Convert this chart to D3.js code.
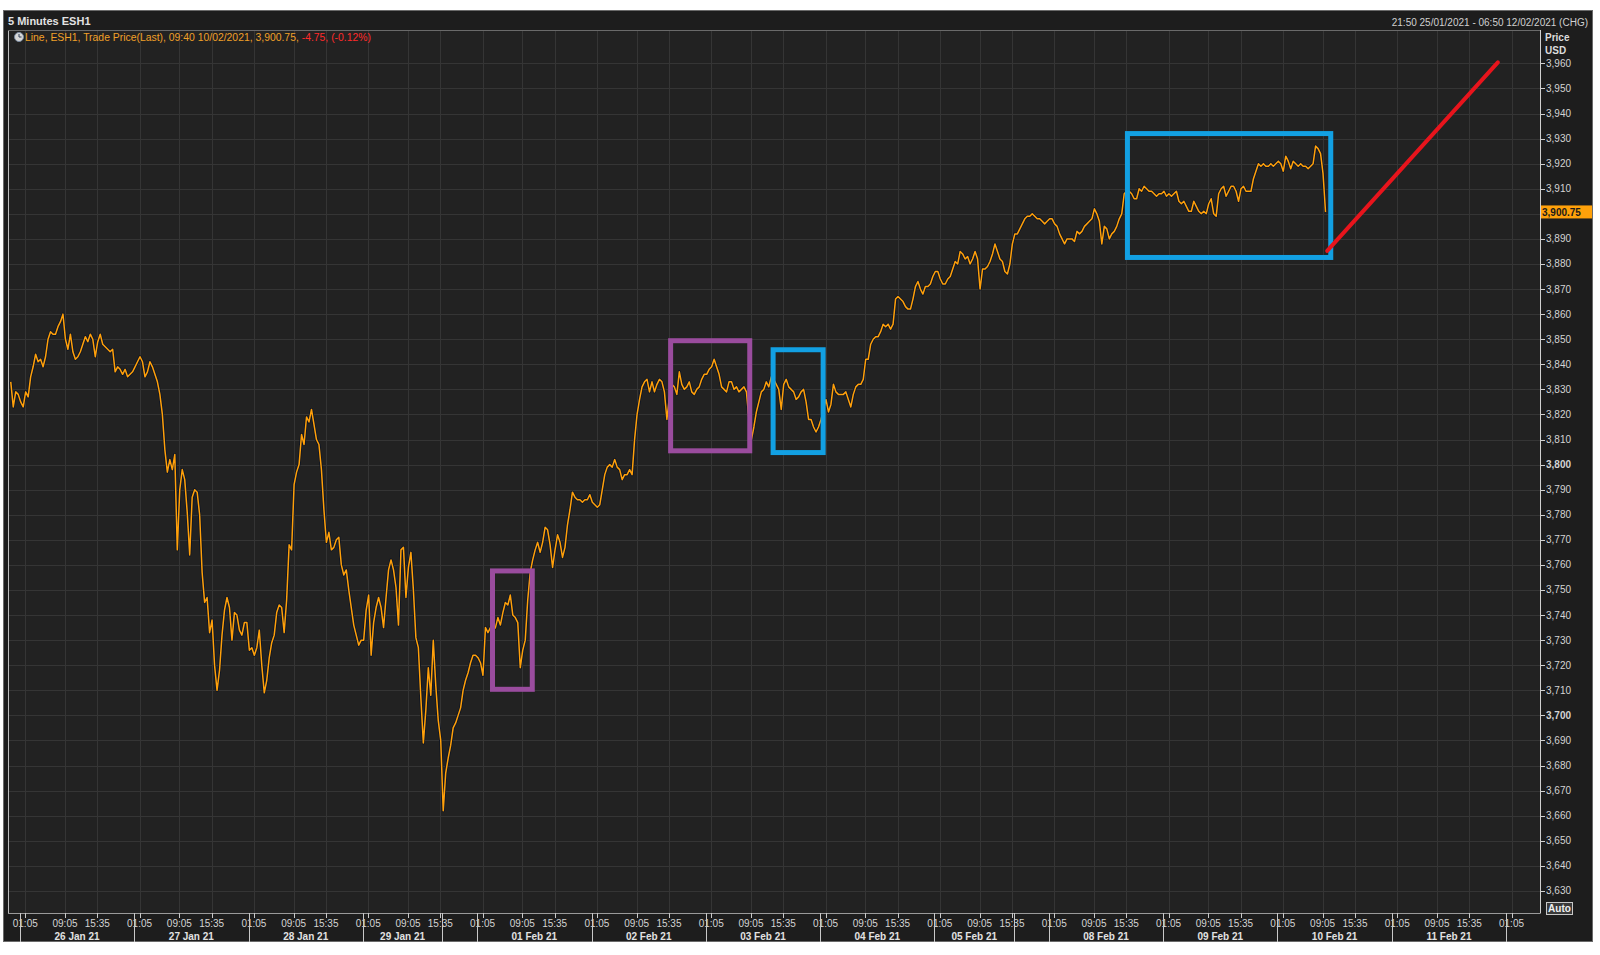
<!DOCTYPE html>
<html><head><meta charset="utf-8">
<script src="https://cdn.jsdelivr.net/npm/d3@7"></script>
<style>
html,body{margin:0;padding:0;background:#ffffff;}
svg{display:block;font-family:"Liberation Sans",Arial,sans-serif;}
</style></head><body>
<svg id="chart" width="1600" height="955"></svg>
<script>
// ---------------- DATA ----------------
const chartTitle = "5 Minutes ESH1";
const legendMain = "Line, ESH1, Trade Price(Last), 09:40 10/02/2021, 3,900.75, ";
const legendChange = "-4.75, (-0.12%)";
const rangeText = "21:50 25/01/2021 - 06:50 12/02/2021 (CHG)";
const axisTitle = ["Price", "USD"];
const lastPrice = 3900.75;
const lastPriceLabel = "3,900.75";
const rangeStart = "2021-01-25 21:50";
const rangeEnd = "2021-02-12 06:50";
const seriesStart = "2021-01-25 22:10";   // first sample
const seriesStepMinutes = 30;              // trading minutes between samples
const prices = [
3833,3823,3829,3828,3825,3823,3829,3827,3835,3839,
3844,3841,3842,3839,3843,3850,3853,3852,3852,3855,
3857,3860,3850,3846,3852,3845,3842,3843,3845,3848,
3851,3849,3852,3850,3843,3849,3852,3848,3847,3846,
3845,3846,3837,3839,3838,3836,3838,3835,3836,3837,
3839,3841,3843,3841,3835,3837,3841,3839,3836,3833,
3828,3820,3806,3797,3802,3798,3804,3766,3790,3798,
3794,3781,3764,3787,3790,3789,3780,3757,3745,3747,
3733,3738,3720,3710,3718,3732,3742,3747,3743,3730,
3741,3740,3734,3732,3737,3737,3726,3727,3724,3727,
3734,3720,3709,3714,3723,3729,3732,3741,3744,3743,
3733,3746,3768,3766,3792,3797,3800,3812,3808,3819,
3817,3822,3816,3810,3808,3798,3782,3769,3773,3766,
3767,3770,3771,3760,3756,3758,3750,3743,3736,3732,
3728,3730,3730,3742,3748,3724,3737,3743,3747,3743,
3735,3747,3758,3762,3758,3751,3736,3766,3767,3747,
3759,3765,3750,3731,3727,3707,3689,3702,3719,3708,
3730,3712,3698,3690,3662,3677,3683,3688,3695,3697,
3700,3703,3710,3714,3717,3721,3724,3724,3723,3721,
3716,3735,3733,3735,3734,3735,3739,3736,3741,3745,
3744,3748,3740,3739,3737,3719,3726,3730,3746,3757,
3762,3766,3769,3765,3769,3775,3774,3768,3759,3766,
3772,3769,3763,3767,3776,3782,3789,3787,3786,3786,
3785,3786,3786,3788,3785,3784,3783,3784,3790,3796,
3799,3800,3799,3802,3799,3798,3794,3796,3796,3798,
3796,3810,3820,3826,3831,3833,3834,3829,3833,3829,
3832,3834,3833,3829,3818,3827,3832,3831,3828,3837,
3832,3830,3831,3833,3829,3828,3830,3831,3834,3836,
3836,3838,3839,3842,3839,3836,3831,3830,3829,3833,
3833,3830,3831,3829,3830,3831,3829,3818,3810,3815,
3821,3825,3829,3830,3833,3831,3835,3834,3832,3830,
3822,3832,3834,3831,3830,3829,3826,3827,3829,3830,
3825,3818,3818,3815,3813,3815,3818,3822,3826,3821,
3824,3832,3829,3828,3828,3828,3829,3826,3823,3828,
3831,3832,3832,3834,3842,3842,3848,3850,3851,3851,
3853,3856,3855,3856,3854,3856,3866,3867,3866,3865,
3863,3862,3862,3866,3871,3873,3870,3868,3871,3871,
3872,3875,3877,3877,3874,3872,3872,3874,3875,3878,
3881,3880,3885,3884,3882,3883,3880,3882,3885,3882,
3870,3878,3878,3879,3881,3884,3888,3885,3882,3881,
3877,3876,3880,3888,3892,3892,3894,3896,3898,3899,
3899,3900,3899,3898,3898,3897,3896,3897,3898,3898,
3896,3895,3892,3890,3888,3890,3890,3890,3889,3893,
3892,3893,3895,3896,3897,3898,3902,3900,3897,3888,
3895,3894,3890,3892,3893,3895,3898,3900,3908,3909,
3909,3908,3906,3906,3910,3909,3911,3910,3909,3909,
3908,3907,3908,3908,3909,3907,3908,3907,3908,3909,
3905,3904,3905,3903,3901,3901,3905,3903,3901,3900,
3901,3900,3904,3906,3900,3899,3908,3910,3911,3907,
3909,3911,3911,3909,3905,3910,3911,3909,3909,3909,
3914,3917,3920,3919,3920,3919,3919,3920,3919,3920,
3921,3920,3917,3923,3921,3918,3921,3920,3919,3920,
3919,3919,3918,3919,3920,3927,3926,3924,3916,3900.75
];
const priceDomain = [3621.2, 3973.3];
const priceTickMin = 3630, priceTickMax = 3960, priceTickStep = 10;
const boldPriceTicks = [3700, 3800, 3900];
const tradingDays = ["2021-01-26","2021-01-27","2021-01-28","2021-01-29","2021-02-01","2021-02-02",
  "2021-02-03","2021-02-04","2021-02-05","2021-02-08","2021-02-09","2021-02-10","2021-02-11"];
const dayLabels = ["26 Jan 21","27 Jan 21","28 Jan 21","29 Jan 21","01 Feb 21","02 Feb 21",
  "03 Feb 21","04 Feb 21","05 Feb 21","08 Feb 21","09 Feb 21","10 Feb 21","11 Feb 21"];
const timeTickLabels = ["01:05","09:05","15:35"];
const trailingDay = "2021-02-12";
const trailingTimeTicks = ["01:05"];
const boxes = [
  {from:"2021-02-01 03:05", to:"2021-02-01 11:05", top:3757.6, bottom:3710.4, color:"#9a4c9e"},
  {from:"2021-02-02 15:55", to:"2021-02-03 08:50", top:3849.4, bottom:3805.5, color:"#9a4c9e"},
  {from:"2021-02-03 13:32", to:"2021-02-04 00:36", top:3845.8, bottom:3804.8, color:"#12a0e3"},
  {from:"2021-02-08 15:49", to:"2021-02-10 10:43", top:3932.0, bottom:3882.6, color:"#12a0e3"}
];
const targetFrom = {time:"2021-02-10 10:00", price:3885.2};
const targetTo = {time:"2021-02-11 22:20", price:3960.4};

// ---------------- TRADING TIME ----------------
function parseT(s){
  const [d,t] = s.split(" ");
  const [Y,M,D] = d.split("-").map(Number);
  const [h,m] = (t||"00:00").split(":").map(Number);
  return Date.UTC(Y,M-1,D,h,m);
}
const REF = Date.UTC(2021,0,24); // Sunday
function openHours(dow, h){
  const segs = dow===0?[[17,24]]:dow===6?[]:dow===5?[[0,16]]:[[0,16],[17,24]];
  let s=0; for(const [a,b] of segs){ if(h>a) s += Math.min(h,b)-a; } return s;
}
function tradeHours(s){
  const ms = typeof s==="string"?parseT(s):s;
  const days = Math.floor((ms-REF)/864e5);
  let total=0;
  for(let i=0;i<days;i++) total += openHours(i%7,24);
  total += openHours(days%7,(ms-REF-days*864e5)/36e5);
  return total;
}

// ---------------- LAYOUT ----------------
const svg = d3.select("#chart");
const P = {left:8, right:1540, top:30, bottom:913};
const x = d3.scaleLinear().domain([tradeHours(rangeStart), tradeHours(rangeEnd)]).range([9.1, 1540.1]);
const y = d3.scaleLinear().domain(priceDomain).range([P.bottom, P.top]);

// outer frame
svg.append("rect").attr("x",0).attr("y",0).attr("width",1600).attr("height",955).attr("fill","#ffffff");
svg.append("rect").attr("x",3.5).attr("y",10.5).attr("width",1589).attr("height",931).attr("fill","#1d1d1d").attr("stroke","#6a6a6a");
// plot background
svg.append("rect").attr("x",P.left).attr("y",P.top).attr("width",P.right-P.left).attr("height",P.bottom-P.top).attr("fill","#222222");

const priceTicks = d3.range(priceTickMin, priceTickMax+1, priceTickStep);
const fmt = d3.format(",");

// time ticks
const timeTicks = [];
tradingDays.forEach(d => timeTickLabels.forEach(t => timeTicks.push({t:d+" "+t, label:t})));
trailingTimeTicks.forEach(t => timeTicks.push({t:trailingDay+" "+t, label:t}));

// gridlines
const grid = svg.append("g");
grid.selectAll("line.h").data(priceTicks).join("line")
  .attr("x1",P.left).attr("x2",P.right)
  .attr("y1",d=>Math.round(y(d))+0.5).attr("y2",d=>Math.round(y(d))+0.5)
  .attr("stroke","#353535").attr("stroke-width",1);
grid.selectAll("line.v").data(timeTicks).join("line")
  .attr("x1",d=>Math.round(x(tradeHours(d.t)))+0.5).attr("x2",d=>Math.round(x(tradeHours(d.t)))+0.5)
  .attr("y1",P.top).attr("y2",P.bottom)
  .attr("stroke","#353535").attr("stroke-width",1);

// price line
const t0 = tradeHours(seriesStart);
const step = seriesStepMinutes/60;
const line = d3.line().x((d,i)=>x(t0+i*step)).y(d=>y(d));
svg.append("path").datum(prices).attr("d",line).attr("fill","none")
  .attr("stroke","#0c1322").attr("stroke-width",3).attr("stroke-linejoin","round");
svg.append("path").datum(prices).attr("d",line).attr("fill","none")
  .attr("stroke","#ffa00a").attr("stroke-width",1.5).attr("stroke-linejoin","round");

// annotation boxes
svg.selectAll("rect.box").data(boxes).join("rect")
  .attr("x",d=>x(tradeHours(d.from))).attr("y",d=>y(d.top))
  .attr("width",d=>x(tradeHours(d.to))-x(tradeHours(d.from)))
  .attr("height",d=>y(d.bottom)-y(d.top))
  .attr("fill","none").attr("stroke",d=>d.color).attr("stroke-width",5);

// target line
svg.append("line")
  .attr("x1",x(tradeHours(targetFrom.time))).attr("y1",y(targetFrom.price))
  .attr("x2",x(tradeHours(targetTo.time))).attr("y2",y(targetTo.price))
  .attr("stroke","#e8141c").attr("stroke-width",4).attr("stroke-linecap","round");

// plot borders
svg.append("line").attr("x1",P.left+0.5).attr("x2",P.left+0.5).attr("y1",P.top).attr("y2",P.bottom+0.5).attr("stroke","#bdbdbd");
svg.append("line").attr("x1",P.left).attr("x2",P.right).attr("y1",P.top+0.5).attr("y2",P.top+0.5).attr("stroke","#6a6a6a");
svg.append("line").attr("x1",P.left).attr("x2",P.right).attr("y1",P.bottom+0.5).attr("y2",P.bottom+0.5).attr("stroke","#9a9a9a");
svg.append("line").attr("x1",P.right+0.5).attr("x2",P.right+0.5).attr("y1",P.top).attr("y2",P.bottom+0.5).attr("stroke","#d0d0d0");

// y axis ticks & labels (the label under the last-price tag is covered, as in the reference)
const ly = y(lastPrice);
const ya = svg.append("g");
ya.selectAll("line").data(priceTicks).join("line")
  .attr("x1",P.right).attr("x2",P.right+5)
  .attr("y1",d=>Math.round(y(d))+0.5).attr("y2",d=>Math.round(y(d))+0.5).attr("stroke","#d0d0d0");
ya.selectAll("text").data(priceTicks.filter(d=>Math.abs(y(d)-ly)>8)).join("text")
  .attr("x",P.right+6).attr("y",d=>y(d)).attr("dy","0.35em")
  .attr("font-size",10).attr("fill","#d4d4d4")
  .attr("font-weight",d=>boldPriceTicks.includes(d)?"bold":"normal")
  .text(d=>fmt(d));
svg.append("text").attr("x",P.right+5).attr("y",41).attr("font-size",10).attr("font-weight","bold").attr("fill","#dcdcdc").text(axisTitle[0]);
svg.append("text").attr("x",P.right+5).attr("y",54).attr("font-size",10).attr("font-weight","bold").attr("fill","#dcdcdc").text(axisTitle[1]);

// last price tag
svg.append("rect").attr("x",P.right+1).attr("y",ly-6.5).attr("width",51).attr("height",13).attr("fill","#ffa10a");
svg.append("text").attr("x",P.right+2).attr("y",ly).attr("dy","0.36em").attr("font-size",10).attr("font-weight","bold").attr("fill","#1a1a1a").text(lastPriceLabel);

// Auto box
svg.append("rect").attr("x",1546.5).attr("y",902.5).attr("width",26).attr("height",12).attr("fill","#3a3a3a").attr("stroke","#c8c8c8");
svg.append("text").attr("x",1559.5).attr("y",912).attr("text-anchor","middle").attr("font-size",10).attr("font-weight","bold").attr("fill","#f0f0f0").text("Auto");

// x axis
const xa = svg.append("g");
xa.selectAll("line.tick").data(timeTicks).join("line")
  .attr("x1",d=>Math.round(x(tradeHours(d.t)))+0.5).attr("x2",d=>Math.round(x(tradeHours(d.t)))+0.5)
  .attr("y1",P.bottom).attr("y2",P.bottom+5).attr("stroke","#c8c8c8");
xa.selectAll("text.time").data(timeTicks).join("text")
  .attr("x",d=>x(tradeHours(d.t))).attr("y",927).attr("text-anchor","middle")
  .attr("font-size",10).attr("fill","#d4d4d4").text(d=>d.label);

// day separators: midnights, Friday close, next-day boundaries
const seps = [];
const daySegs = tradingDays.map((d,i)=>{
  const s = tradeHours(d+" 00:00");
  const dow = new Date(parseT(d)).getUTCDay();
  const e = dow===5 ? tradeHours(d+" 16:00") : tradeHours(d+" 24:00");
  return {s,e,label:dayLabels[i]};
});
daySegs.forEach(s=>{seps.push(s.s); seps.push(s.e);});
seps.push(tradeHours(trailingDay+" 00:00"));
const sepUnique = Array.from(new Set(seps.map(v=>v.toFixed(3)))).map(Number);
xa.selectAll("line.sep").data(sepUnique).join("line")
  .attr("x1",d=>Math.round(x(d))+0.5).attr("x2",d=>Math.round(x(d))+0.5)
  .attr("y1",P.bottom).attr("y2",942).attr("stroke","#c8c8c8");
xa.selectAll("text.day").data(daySegs).join("text")
  .attr("x",d=>(x(d.s)+x(d.e))/2).attr("y",940).attr("text-anchor","middle")
  .attr("font-size",10).attr("font-weight","bold").attr("fill","#e2e2e2").text(d=>d.label);

// header
svg.append("text").attr("x",8).attr("y",25).attr("font-size",11).attr("font-weight","bold").attr("fill","#e2e2e2").text(chartTitle);
svg.append("text").attr("x",1588).attr("y",26).attr("text-anchor","end").attr("font-size",10).attr("fill","#d0d0d0").text(rangeText);
// legend icon
const ic = svg.append("g").attr("transform","translate(19,37)");
ic.append("circle").attr("r",4.5).attr("fill","#d8d8d8").attr("stroke","#7a8aa0");
ic.append("path").attr("d","M0,-3V0H2.5").attr("stroke","#30405a").attr("stroke-width",1).attr("fill","none");
const lg = svg.append("text").attr("x",25).attr("y",41).attr("font-size",10.4);
lg.append("tspan").attr("fill","#f0a028").text(legendMain);
lg.append("tspan").attr("fill","#ff2a2a").text(legendChange);
</script>
</body></html>
